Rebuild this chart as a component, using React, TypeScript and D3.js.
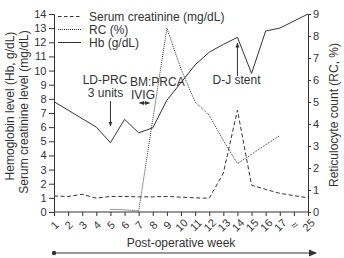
import React, { useEffect, useRef } from 'react';
import * as d3 from 'd3';

// x categories (post-operative week); "≈" is the axis break
const weeks = ["1", "2", "3", "4", "5", "6", "7", "8", "9", "10", "11", "12", "13", "14", "15", "16", "17", "≈", "25"];

// Hb (g/dL), left axis
const hbValues = [7.8, 7.2, 6.6, 6.0, 4.9, 6.55, 5.6, 5.95, 7.9, 9.15, 10.4, 11.3, 11.85, 12.35, 9.8, 12.8, 13.0, null, 14.0];
// Serum creatinine (mg/dL), left axis
const creatValues = [1.13, 1.1, 1.25, 0.98, 1.1, 1.1, 1.07, 1.07, 1.1, 1.05, 1.0, 0.97, 2.75, 7.2, 1.9, 1.6, 1.32, null, 1.0];
// RC (%), right axis
const rcValues = [null, null, null, null, 0.12, 0.1, 0.05, null, 8.35, 6.5, 5.0, 4.4, 3.25, 2.2, 2.62, 3.06, 3.47, null, null];

const leftTicks = d3.range(0, 15);
const rightTicks = d3.range(0, 10);

const FONT = "'Liberation Sans', Arial, sans-serif";
const INK = "#333";

const App = () => {
  const svgRef = useRef<SVGSVGElement>(null);

  useEffect(() => {
    const svg = d3.select(svgRef.current);
    svg.selectAll("*").remove();

    const x = d3.scalePoint().domain(weeks).range([54, 308]);
    const yL = d3.scaleLinear().domain([0, 14]).range([212, 14]);
    const yR = d3.scaleLinear().domain([0, 9]).range([212, 14]);

    const defs = svg.append("defs");
    defs.append("marker").attr("id", "ah").attr("viewBox", "0 0 10 10")
      .attr("refX", 9).attr("refY", 5).attr("markerWidth", 5).attr("markerHeight", 5)
      .attr("orient", "auto-start-reverse")
      .append("path").attr("d", "M0,1 L10,5 L0,9 Z").attr("fill", INK);

    // axes
    const gL = svg.append("g").attr("transform", "translate(54,0)")
      .call(d3.axisLeft(yL).tickValues(leftTicks).tickSize(5).tickPadding(2.5));
    const gR = svg.append("g").attr("transform", "translate(308,0)")
      .call(d3.axisRight(yR).tickValues(rightTicks).tickSize(3).tickPadding(2));
    const gB = svg.append("g").attr("transform", "translate(0,212)")
      .call(d3.axisBottom(x).tickSize(4).tickSizeOuter(0));

    [gL, gR, gB].forEach(g => {
      g.selectAll("path, line").attr("stroke", INK);
      g.selectAll("text").attr("fill", INK).style("font-size", "11px").style("font-family", FONT);
    });
    gB.select(".domain").attr("d", "M54,0H308");
    gB.selectAll("text")
      .attr("y", 0).attr("dy", null)
      .attr("transform", "translate(0,13) rotate(-45)")
      .attr("text-anchor", "middle")
      .attr("dominant-baseline", "central");

    // series
    const draw = (vals: (number | null)[], y: d3.ScaleLinear<number, number>, dash: string | null) => {
      const pts = weeks.map((w, i) => ({ w, v: vals[i] })).filter(d => d.v !== null) as { w: string, v: number }[];
      const line = d3.line<{ w: string, v: number }>().x(d => x(d.w)!).y(d => y(d.v));
      const p = svg.append("path").datum(pts)
        .attr("fill", "none").attr("stroke", INK).attr("stroke-width", 1).attr("d", line);
      if (dash) p.attr("stroke-dasharray", dash);
    };
    draw(creatValues, yL, "4,2.5");
    draw(rcValues, yR, "1,1");
    draw(hbValues, yL, null);

    // legend
    const legend = [
      { label: "Serum creatinine (mg/dL)", dash: "3.5,2.5" },
      { label: "RC (%)", dash: "1,1" },
      { label: "Hb (g/dL)", dash: null },
    ];
    legend.forEach((d, i) => {
      const ly = 16.5 + i * 13;
      const l = svg.append("line").attr("x1", 58).attr("x2", 81).attr("y1", ly).attr("y2", ly)
        .attr("stroke", INK).attr("stroke-width", 1);
      if (d.dash) l.attr("stroke-dasharray", d.dash);
      svg.append("text").attr("x", 89).attr("y", ly).attr("dominant-baseline", "central")
        .style("font-size", "12px").style("font-family", FONT).attr("fill", INK).text(d.label);
    });

    // annotations
    const txt = (tx: number, ty: number, s: string, anchor = "start") =>
      svg.append("text").attr("x", tx).attr("y", ty).attr("text-anchor", anchor)
        .style("font-size", "12px").style("font-family", FONT).attr("fill", INK).text(s);

    txt(105, 84, "LD-PRC", "middle");
    txt(105.5, 97, "3 units", "middle");
    svg.append("line").attr("x1", x("5")!).attr("x2", x("5")!).attr("y1", 101).attr("y2", 126)
      .attr("stroke", INK).attr("marker-end", "url(#ah)");

    txt(130, 85.5, "BM:PRCA");
    txt(131, 99, "IVIG");
    svg.append("line").attr("x1", 139.5).attr("x2", 149.5).attr("y1", 103).attr("y2", 103)
      .attr("stroke", INK).attr("marker-start", "url(#ah)").attr("marker-end", "url(#ah)");

    txt(236.5, 84, "D-J stent", "middle");
    svg.append("line").attr("x1", x("14")!).attr("x2", x("14")!).attr("y1", 76).attr("y2", 43)
      .attr("stroke", INK).attr("marker-end", "url(#ah)");

    // axis titles
    const vtitle = (tx: number, ty: number, s: string) =>
      svg.append("text").attr("transform", `translate(${tx},${ty}) rotate(-90)`)
        .attr("text-anchor", "middle").attr("dominant-baseline", "central")
        .style("font-size", "12px").style("font-family", FONT).attr("fill", INK).text(s);
    vtitle(10, 106, "Hemoglobin level (Hb, g/dL)");
    vtitle(24, 112, "Serum creatinine level (mg/dL)");
    vtitle(334, 115, "Reticulocyte count (RC, %)");

    svg.append("text").attr("x", 181).attr("y", 243).attr("text-anchor", "middle")
      .attr("dominant-baseline", "central")
      .style("font-size", "12px").style("font-family", FONT).attr("fill", INK).text("Post-operative week");

    // timeline arrow
    svg.append("circle").attr("cx", 54).attr("cy", 253).attr("r", 2.2).attr("fill", INK);
    svg.append("line").attr("x1", 54).attr("x2", 316).attr("y1", 253).attr("y2", 253)
      .attr("stroke", INK).attr("stroke-width", 1.2);
    svg.append("path").attr("d", "M309,249.5 L317,253 L309,256.5 Z").attr("fill", INK);
  }, []);

  return (
    <svg ref={svgRef} width={344} height={258}
      style={{ position: 'absolute', left: 0, top: 0, background: '#fff' }} />
  );
};

export default App;
